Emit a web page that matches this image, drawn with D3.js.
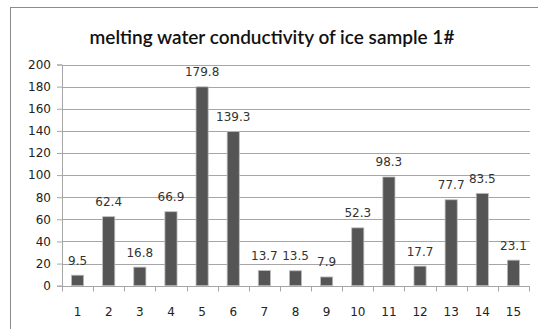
<!DOCTYPE html>
<html>
<head>
<meta charset="utf-8">
<script src="https://cdn.jsdelivr.net/npm/d3@7"></script>
<style>
  html, body { margin: 0; padding: 0; background: #fff; }
  svg { display: block; }
</style>
</head>
<body>
<svg id="chart" width="538" height="329"></svg>
<script>
// Sample numbers and measured conductivity of the melt water
const categories = ["1","2","3","4","5","6","7","8","9","10","11","12","13","14","15"];
const conductivity = [9.5, 62.4, 16.8, 66.9, 179.8, 139.3, 13.7, 13.5, 7.9, 52.3, 98.3, 17.7, 77.7, 83.5, 23.1];
const yTicks = [0, 20, 40, 60, 80, 100, 120, 140, 160, 180, 200];
const titleText = "melting water conductivity of ice sample 1#";

const svg = d3.select("#chart");

// chart frame
svg.append("rect")
  .attr("x", 10.5).attr("y", 7.5)
  .attr("width", 540).attr("height", 340)
  .attr("fill", "#fff").attr("stroke", "#8c8c8c").attr("stroke-width", 1);

const plot = { left: 62, right: 529, top: 64.5, bottom: 285.7 };

const x = d3.scaleBand()
  .domain(categories)
  .range([plot.left, plot.right])
  .paddingInner(0.61)
  .paddingOuter(0.305);

const y = d3.scaleLinear()
  .domain([0, 200])
  .range([plot.bottom, plot.top]);

// title
svg.append("text")
  .attr("x", 272).attr("y", 44)
  .attr("text-anchor", "middle")
  .attr("font-family", "Lato, 'Open Sans', sans-serif")
  .attr("font-size", 19)
  .attr("font-weight", 600)
  .attr("fill", "#111")
  .text(titleText);

// horizontal gridlines
svg.append("g")
  .selectAll("line")
  .data(yTicks.filter(t => t > 0))
  .join("line")
  .attr("x1", plot.left).attr("x2", plot.right + 1)
  .attr("y1", d => Math.round(y(d)) + 0.5)
  .attr("y2", d => Math.round(y(d)) + 0.5)
  .attr("stroke", "#a6a6a6").attr("stroke-width", 1);

// y axis
const yAxis = d3.axisLeft(y).tickValues(yTicks).tickSize(5).tickPadding(6);
const gy = svg.append("g")
  .attr("transform", `translate(${plot.left},0)`)
  .call(yAxis);
gy.select(".domain").attr("stroke", "#a6a6a6");
gy.selectAll(".tick line").attr("stroke", "#a6a6a6");
gy.selectAll(".tick text")
  .attr("font-family", "'DejaVu Sans', Verdana, sans-serif")
  .attr("font-size", 12)
  .attr("fill", "#222");

// x axis with ticks on category boundaries
const gx = svg.append("g")
  .attr("transform", `translate(0,${Math.round(plot.bottom) + 0.5})`);
gx.append("line")
  .attr("x1", plot.left).attr("x2", plot.right + 1)
  .attr("stroke", "#a6a6a6");
const step = x.step();
const boundaries = d3.range(categories.length + 1).map(i => plot.left + i * step);
gx.selectAll(".bt")
  .data(boundaries)
  .join("line")
  .attr("class", "bt")
  .attr("x1", d => Math.round(d) + 0.5).attr("x2", d => Math.round(d) + 0.5)
  .attr("y1", 0).attr("y2", 5)
  .attr("stroke", "#a6a6a6");
gx.selectAll("text")
  .data(categories)
  .join("text")
  .attr("x", d => x(d) + x.bandwidth() / 2)
  .attr("y", 29)
  .attr("text-anchor", "middle")
  .attr("font-family", "'DejaVu Sans', Verdana, sans-serif")
  .attr("font-size", 12)
  .attr("fill", "#222")
  .text(d => d);

// bars
const data = categories.map((c, i) => ({ c, v: conductivity[i] }));
svg.append("g")
  .selectAll("rect")
  .data(data)
  .join("rect")
  .attr("x", d => x(d.c))
  .attr("y", d => y(d.v))
  .attr("width", x.bandwidth())
  .attr("height", d => y(0) - y(d.v))
  .attr("fill", "#555555")
  .attr("stroke", "#bdbdbd")
  .attr("stroke-width", 0.8);

// value labels
svg.append("g")
  .selectAll("text")
  .data(data)
  .join("text")
  .attr("x", d => x(d.c) + x.bandwidth() / 2)
  .attr("y", d => y(d.v) - 10.5)
  .attr("text-anchor", "middle")
  .attr("font-family", "'DejaVu Sans', Verdana, sans-serif")
  .attr("font-size", 12)
  .attr("fill", "#333")
  .text(d => d.v);
</script>
</body>
</html>
